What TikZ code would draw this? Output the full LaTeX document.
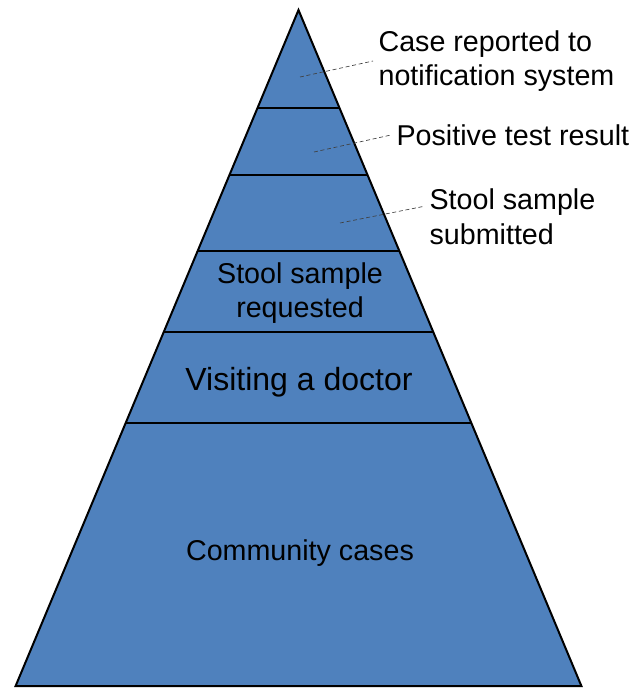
\documentclass[tikz,border=0pt]{standalone}
\usepackage{fontspec}
\setmainfont{Liberation Sans}
\definecolor{pyrblue}{HTML}{4F81BD}
\begin{document}
\begin{tikzpicture}[x=0.75pt,y=-0.75pt,
  layerline/.style={line width=1.5pt,black},
  leader/.style={draw=black!75,line width=0.5pt,dash pattern=on 3pt off 2pt},
  lab/.style={font=\fontsize{21.5}{26}\selectfont,inner sep=4pt,align=left,anchor=west},
  inlab/.style={font=\fontsize{21.5}{26}\selectfont,inner sep=0pt,align=center}]
\useasboundingbox (0,0) rectangle (636,689);
% pyramid body
\fill[pyrblue] (298.5,10) -- (581.4,686) -- (15.6,686) -- cycle;
\draw[layerline] (257.5,108) -- (339.5,108);
\draw[layerline] (229.4,175) -- (367.6,175);
\draw[layerline] (197.6,251) -- (399.4,251);
\draw[layerline] (163.7,332) -- (433.3,332);
\draw[layerline] (125.7,423) -- (471.3,423);
\draw[layerline,line join=miter] (298.5,10) -- (581.4,686) -- (15.6,686) -- cycle;
% inside labels
\node[inlab] (l4) at (300,293) {Stool sample\\requested};
\node[inlab,font=\fontsize{24}{28}\selectfont] (l5) at (299,382) {Visiting a doctor};
\node[inlab] (l6) at (300,553) {Community cases};
% outside labels
\node[lab] (lab1) at (373,61) {Case reported to\\notification system};
\node[lab] (lab2) at (391,135) {Positive test result};
\node[lab] (lab3) at (424,217) {Stool sample\\submitted};
% leader lines
\coordinate (d1) at (300,77);
\coordinate (d2) at (314,152);
\coordinate (d3) at (340,223);
\draw[leader] (d1) -- (lab1.west);
\draw[leader] (d2) -- (lab2.west);
\draw[leader] (d3) -- ([yshift=8pt]lab3.west);
\end{tikzpicture}
\end{document}
